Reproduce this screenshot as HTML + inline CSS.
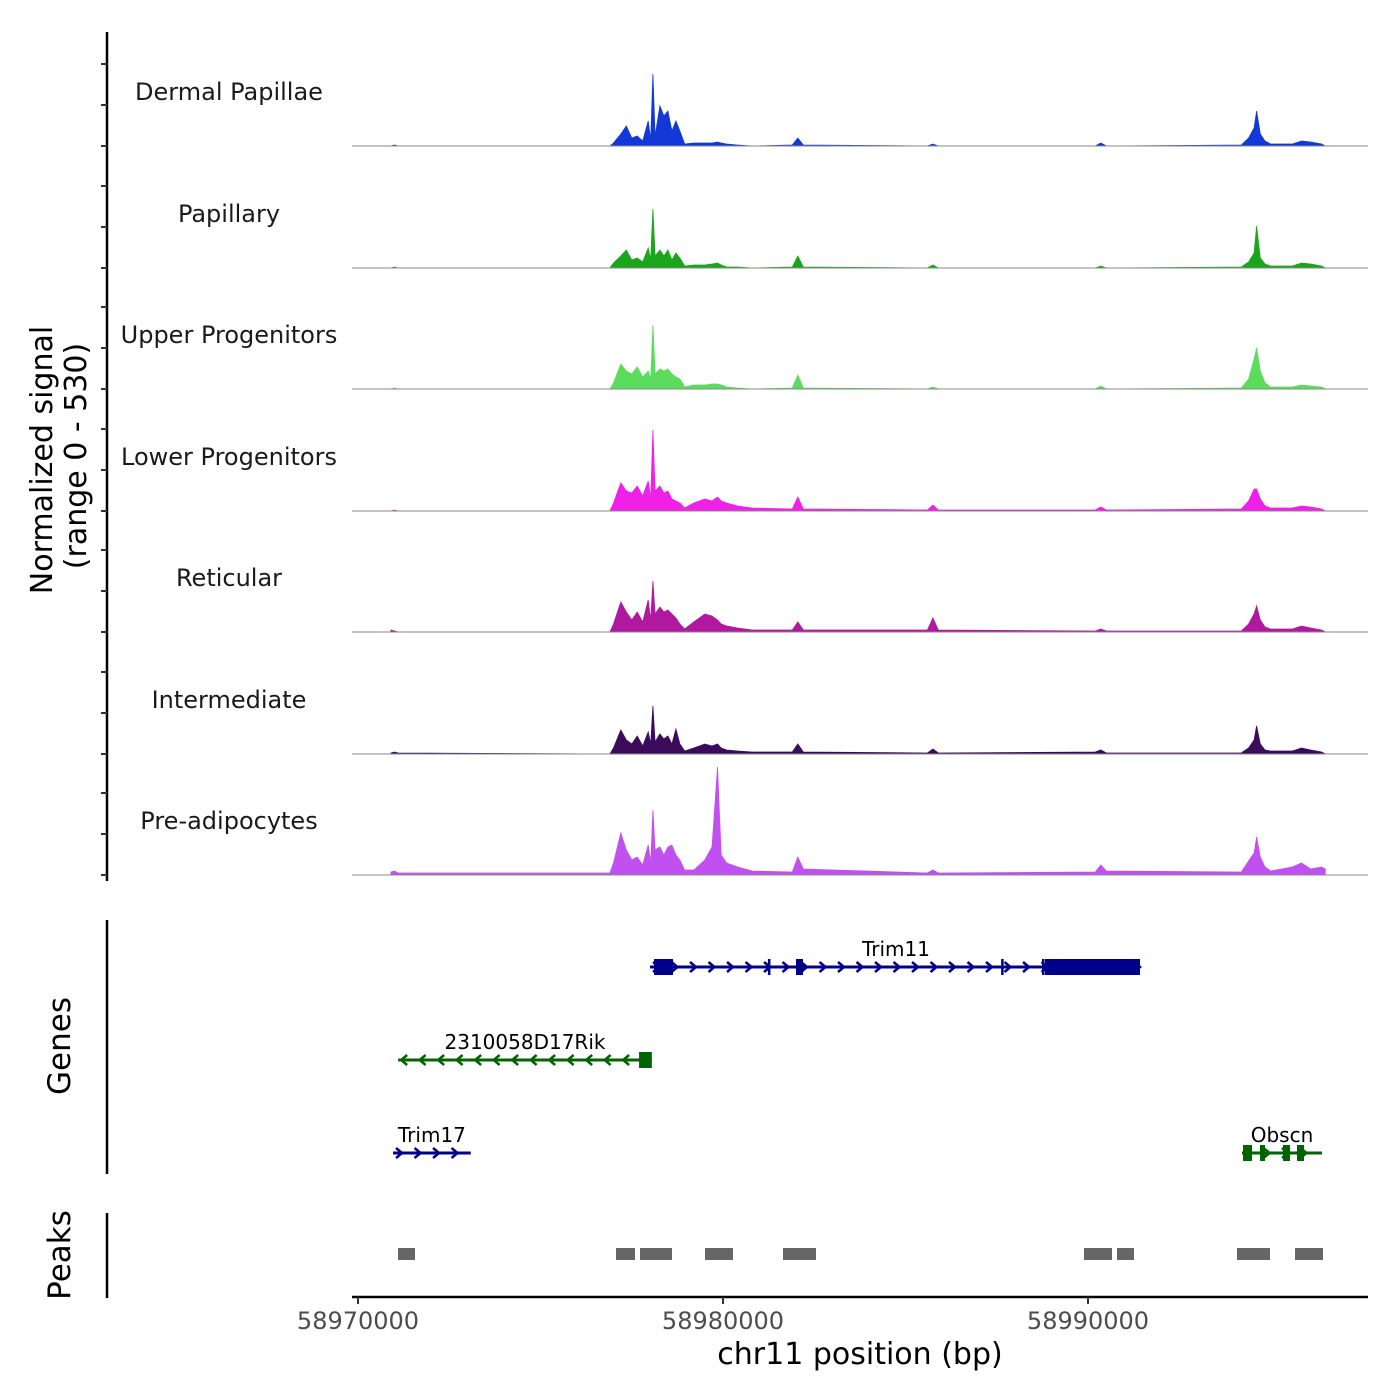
<!DOCTYPE html>
<html><head><meta charset="utf-8"><style>
html,body{margin:0;padding:0;background:#fff;}
svg{display:block;font-family:"DejaVu Sans","Liberation Sans",sans-serif;}
</style></head><body>
<svg id="chart" width="1400" height="1400" viewBox="0 0 1400 1400" xmlns="http://www.w3.org/2000/svg">
<g id="tracks"></g>
<g id="genes"></g>
<g id="peaks"></g>
<g id="axes"></g>
</svg>
<script>
// ---- data ----
const trackNames = ["Dermal Papillae","Papillary","Upper Progenitors","Lower Progenitors","Reticular","Intermediate","Pre-adipocytes"];
const trackColors = ["#1239d8","#1aa61a","#5cdc5c","#f020e8","#b0189f","#3c0c5c","#c050f0"];
// positions in kb offset from 58970000
const binKb = [0.9,1.0,1.1,6.9,7.0,7.2,7.35,7.5,7.65,7.8,7.95,8.02,8.08,8.14,8.27,8.38,8.49,8.6,8.71,8.82,8.95,9.2,9.5,9.7,9.85,9.95,10.1,10.4,10.8,11.9,12.05,12.2,15.6,15.75,15.9,20.2,20.35,20.5,24.2,24.4,24.55,24.62,24.72,24.85,25.0,25.6,25.85,26.1,26.4,26.5];
const sigDermal = [0,1,0,0,3,12,20,8,10,5,25,6,72,10,40,30,35,15,25,15,2,3,3,3,4,3,2,1,0,1,8,1,0,2,0,0,3,0,1,8,18,35,12,5,2,2,5,4,2,0];
const sigPapillary = [0,1,0,0,5,12,18,8,10,6,20,8,59,12,18,12,18,8,15,10,2,3,3,4,5,3,1,1,0,1,12,1,0,3,0,0,2,0,1,6,15,42,10,4,2,2,5,4,2,0];
const sigUpper = [0,1,0,0,6,25,18,15,22,12,18,10,64,15,20,18,20,15,12,10,2,4,4,5,5,4,2,1,0,1,14,1,0,2,0,0,3,0,1,10,30,41,18,6,2,2,4,3,2,0];
const sigLower = [0,1,0,0,8,28,20,18,25,15,30,12,81,20,25,18,20,12,10,8,3,8,12,10,14,10,8,5,3,2,14,2,1,6,1,1,4,1,2,10,22,22,12,5,3,3,5,4,2,0];
const sigReticular = [2,1,0,0,8,30,20,12,20,10,32,12,51,18,25,20,22,18,14,8,3,10,18,16,12,8,6,4,2,2,10,2,2,14,2,1,3,1,1,8,18,26,12,5,3,3,6,4,2,0];
const sigIntermediate = [1,2,1,0,6,24,14,10,18,8,22,10,48,12,20,15,18,10,25,10,3,6,10,8,10,6,4,3,2,2,10,2,1,5,1,2,4,1,1,6,14,28,10,4,3,3,6,4,2,0];
const sigPreadipo = [3,4,2,2,12,42,25,15,18,10,30,12,65,25,28,20,28,30,20,15,5,5,15,28,108,20,12,8,4,3,18,6,2,5,2,3,10,4,3,14,22,38,18,8,4,8,12,6,8,6];
const allSignals = [sigDermal,sigPapillary,sigUpper,sigLower,sigReticular,sigIntermediate,sigPreadipo];
const xTicks = [58970000,58980000,58990000];
// genes
const geneNames = ["Trim11","2310058D17Rik","Trim17","Obscn"];
const geneStrand = [1,-1,1,1];
const geneColor = ["#00008b","#006400","#00008b","#006400"];
const geneRow = [0,1,2,2];
const geneStart = [58978000,58971100,58970960,58994219];
const geneEnd = [58991425,58978050,58973090,58996411];
const geneExonStarts = [[58978110,58981230,58982000,58987620,58988740,58988822],[58977700],[],[58994247,58994712,58995342,58995726]];
const geneExonEnds = [[58978630,58981300,58982192,58987680,58988790,58991425],[58978050],[],[58994493,58994849,58995534,58995918]];
const peakStarts = [58971096,58977068,58977726,58979507,58981644,58989890,58990795,58994082,58995671];
const peakEnds = [58971562,58977589,58978603,58980274,58982548,58990658,58991260,58994986,58996438];

// ---- scales ----
const NS="http://www.w3.org/2000/svg";
const X0=358, PXPERBP=0.0365;
const xScale = bp => X0 + (bp-58970000)*PXPERBP;
const baselines=[146,268,389,511,632,754,875];
const yScale = (v,base) => base - v*1.0;
function mk(tag,attrs,parent){const e=document.createElementNS(NS,tag);for(const k in attrs)e.setAttribute(k,attrs[k]);parent.appendChild(e);return e;}

const tracksG=document.getElementById('tracks');
allSignals.forEach((sig,i)=>{
  const base=baselines[i];
  let d=`M${xScale(58970000+binKb[0]*1000)},${base}`;
  sig.forEach((v,j)=>{d+=` L${xScale(58970000+binKb[j]*1000).toFixed(1)},${yScale(v,base).toFixed(1)}`;});
  d+=` L${xScale(58970000+binKb[binKb.length-1]*1000)},${base} Z`;
  const p=mk('path',{d:d,fill:trackColors[i],stroke:trackColors[i],'stroke-width':0.8},tracksG);
  
  
  const bl=mk('line',{x1:352,x2:1368,y1:base,y2:base,stroke:'#888','stroke-width':1},tracksG);
  
  
  const t=mk('text',{x:229,y:base-46,'text-anchor':'middle','font-size':24,fill:'#1a1a1a'},tracksG);
  t.textContent=trackNames[i];
  
  
});

// genes
const genesG=document.getElementById('genes');
const rowY=[967,1060,1153], labY=[949,1042,1135];
geneNames.forEach((g,i)=>{
  const col=geneColor[i];
  const y=rowY[geneRow[i]];
  const x1=xScale(geneStart[i]), x2=xScale(geneEnd[i]);
  const ln=mk('line',{x1:x1,x2:x2,y1:y,y2:y,stroke:col,'stroke-width':3},genesG);
  
  
  for(let x=x1+6;x<x2-2;x+=18.5){
    const s=geneStrand[i];
    mk('polyline',{points:`${x-3*s},${y-5} ${x+3*s},${y} ${x-3*s},${y+5}`,fill:'none',stroke:col,'stroke-width':2.5},genesG);
  }
  geneExonStarts[i].forEach((s,k)=>{
    const a=xScale(s), b=xScale(geneExonEnds[i][k]);
    const r=mk('rect',{x:a,y:y-8,width:Math.max(b-a,2.5),height:16,fill:col},genesG);
    
    
  });
  const t=mk('text',{x:(x1+x2)/2,y:labY[geneRow[i]]+7,'text-anchor':'middle','font-size':20,fill:'#000'},genesG);
  if(i===0) t.setAttribute('x',896);
  if(i===3) t.setAttribute('x',1282);
  t.textContent=g;
  
  
});

// peaks
const peaksG=document.getElementById('peaks');
peakStarts.forEach((s,i)=>{
  const a=xScale(s), b=xScale(peakEnds[i]);
  const r=mk('rect',{x:a,y:1248,width:b-a,height:12,fill:'#666'},peaksG);
  
  
});

// axes
const ax=document.getElementById('axes');
mk('line',{x1:107,x2:107,y1:32,y2:881,stroke:'#000','stroke-width':2.5},ax);
baselines.forEach(b=>{[0,41,82].forEach(o=>mk('line',{x1:101,x2:107,y1:b-o,y2:b-o,stroke:'#333','stroke-width':2},ax));});
mk('line',{x1:107,x2:107,y1:920,y2:1174,stroke:'#000','stroke-width':2.5},ax);
mk('line',{x1:107,x2:107,y1:1213,y2:1298,stroke:'#000','stroke-width':2.5},ax);
mk('line',{x1:352,x2:1368,y1:1297,y2:1297,stroke:'#000','stroke-width':2.5},ax);
xTicks.forEach(t=>{
  const x=xScale(t);
  mk('line',{x1:x,x2:x,y1:1297,y2:1304,stroke:'#333','stroke-width':2},ax);
  const tx=mk('text',{x:x,y:1329,'text-anchor':'middle','font-size':24,fill:'#4d4d4d'},ax);
  tx.textContent=String(t);
  
  
});
function rotText(str,x,y,size,name){
  const t=mk('text',{x:0,y:0,transform:`translate(${x},${y}) rotate(-90)`,'text-anchor':'middle','font-size':size,fill:'#000'},ax);
  t.textContent=str;
  
  
}
rotText('Normalized signal',52,460,30,'y-axis-title');
rotText('(range 0 - 530)',86,456,30,'y-axis-range');
rotText('Genes',70,1046,31,'genes-axis-title');
rotText('Peaks',70,1255,31,'peaks-axis-title');
const xt=mk('text',{x:860,y:1364,'text-anchor':'middle','font-size':30,fill:'#000'},ax);
xt.textContent='chr11 position (bp)';


</script>
</body></html>
